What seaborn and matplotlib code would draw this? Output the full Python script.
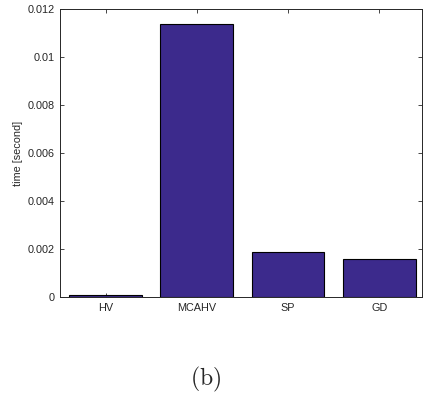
import matplotlib
matplotlib.use('Agg')
import matplotlib.pyplot as plt
import seaborn as sns
import pandas as pd

# run time per method
methods = ['HV', 'MCAHV', 'SP', 'GD']
times = [0.0001, 0.011375, 0.00186, 0.00157]
yticks = [0, 0.002, 0.004, 0.006, 0.008, 0.01, 0.012]
ytick_labels = ['0', '0.002', '0.004', '0.006', '0.008', '0.01', '0.012']

sns.set_theme(style='white')
plt.rcParams['font.family'] = ['Liberation Sans', 'DejaVu Sans']
plt.rcParams['mathtext.fontset'] = 'cm'

df = pd.DataFrame({'method': methods, 'time': times})

fig = plt.figure(figsize=(4.23, 3.97), dpi=100)
ax = fig.add_axes([0.1418, 0.2519, 0.856, 0.7254])

sns.barplot(data=df, x='method', y='time', color='#3C2A8C', saturation=1,
            edgecolor='black', linewidth=0.8, width=0.8, ax=ax)

ax.set_xlim(-0.5, 3.47)
ax.set_ylim(0, 0.012)
ax.set_yticks(yticks)
ax.set_yticklabels(ytick_labels)
ax.set_xlabel('')
ax.set_ylabel('time [second]', fontsize=7.8, labelpad=3)
ax.tick_params(direction='in', length=3, width=0.6, labelsize=7.8,
               top=True, right=True, bottom=True, left=True,
               colors='#262626', pad=4)
for side in ax.spines.values():
    side.set_color('#262626')
    side.set_linewidth(0.7)

fig.text(0.486, 0.043, r'$\mathrm{(b)}$', fontsize=17, ha='center', va='center')

fig.savefig('out.png', dpi=100)
plt.close(fig)
